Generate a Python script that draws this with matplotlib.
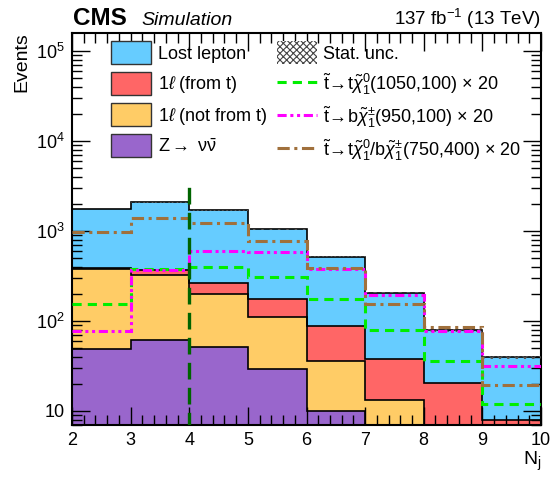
import numpy as np
import matplotlib
matplotlib.use("Agg")
import matplotlib.pyplot as plt
from matplotlib.patches import Patch
from matplotlib.lines import Line2D
from matplotlib.ticker import FixedLocator, MultipleLocator, LogLocator, NullFormatter

plt.rcParams['font.family'] = ['Liberation Sans', 'DejaVu Sans']
plt.rcParams['mathtext.fontset'] = 'custom'
plt.rcParams['mathtext.rm'] = 'Liberation Sans'
plt.rcParams['mathtext.it'] = 'Liberation Sans:italic'
plt.rcParams['mathtext.bf'] = 'Liberation Sans:bold'
plt.rcParams['hatch.linewidth'] = 0.8

# ---- data ----
nj_edges = [2, 3, 4, 5, 6, 7, 8, 9, 10]
lost_lepton = [1361, 1703, 1426, 868, 427, 168, 58, 31.6]
one_l_from_t = [16, 39, 63, 65, 53, 25, 16.4, 5.4]
one_l_not_from_t = [324, 266, 150, 83, 26, 10.2, 3, 2]
z_nunu = [49, 62, 51, 29, 10, 3, 1, 0.5]
stat_unc = [12, 14, 13, 10, 6, 4, 2.5, 1.7]
sig_t_1050_100 = [153, 373, 399, 308, 177, 80, 35.6, 12.1]
sig_b_950_100 = [78, 367, 602, 578, 373, 193, 78, 31.8]
sig_mix_750_400 = [967, 1409, 1239, 773, 383, 156, 85, 19.5]
cut_nj = 4
cut_top = 3500

labels_bkg = ["Lost lepton", r"1$\ell$ (from t)", r"1$\ell$ (not from t)",
              r"Z$\rightarrow$ $\mathrm{\nu}\bar{\mathrm{\nu}}$"]
colors_bkg = ["#66ccff", "#ff6666", "#ffcc66", "#9966cc"]
sig_labels = [r"$\tilde{\mathrm{t}}\!\rightarrow\!\mathrm{t}\tilde{\chi}_1^0$(1050,100) $\times$ 20",
              r"$\tilde{\mathrm{t}}\!\rightarrow\!\mathrm{b}\tilde{\chi}_1^{\pm}$(950,100) $\times$ 20",
              r"$\tilde{\mathrm{t}}\!\rightarrow\!\mathrm{t}\tilde{\chi}_1^0$/b$\tilde{\chi}_1^{\pm}$(750,400) $\times$ 20"]
sig_colors = ["#00ee00", "#ff00ff", "#a0703c"]
sig_styles = [(0, (3, 2)), (0, (3, 1.2, 1, 1.2, 1, 1.2)), (0, (4, 1.5, 1, 1.5))]

edges = np.array(nj_edges, dtype=float)
zn = np.array(z_nunu)
nft = np.array(one_l_not_from_t)
ft = np.array(one_l_from_t)
ll = np.array(lost_lepton)
lay0 = zn
lay1 = lay0 + nft
lay2 = lay1 + ft
lay3 = lay2 + ll
unc = np.array(stat_unc)

fig = plt.figure(figsize=(5.5, 4.78), dpi=100)
ax = fig.add_axes([0.131, 0.111, 0.8526, 0.821])

base = 1e-3
layers = [(lay3, lay2, colors_bkg[0]), (lay2, lay1, colors_bkg[1]),
          (lay1, lay0, colors_bkg[2]), (lay0, base, colors_bkg[3])]
for top, bot, c in layers:
    ax.stairs(top, edges, baseline=bot, fill=True, facecolor=c, edgecolor='none', lw=0, zorder=1)
for top in [lay3, lay2, lay1, lay0]:
    ax.stairs(top, edges, baseline=None, fill=False, edgecolor='black', lw=1.2, zorder=2)

ax.stairs(lay3 + unc, edges, baseline=lay3 - unc, fill=True, facecolor='none',
          edgecolor='#555555', hatch='xxxx', lw=0, zorder=3)

for vals, c, ls in zip([sig_t_1050_100, sig_b_950_100, sig_mix_750_400], sig_colors, sig_styles):
    ax.stairs(vals, edges, baseline=None, fill=False, edgecolor=c, lw=2.2, linestyle=ls, zorder=4)

ax.plot([cut_nj, cut_nj], [1, cut_top], color='#006400', lw=2.4, linestyle=(0, (5, 2.5)), zorder=5)

ax.set_yscale('log')
ax.set_xlim(2, 10)
ax.set_ylim(7, 1.6e5)
ax.xaxis.set_major_locator(MultipleLocator(1))
ax.xaxis.set_minor_locator(MultipleLocator(0.2))
ax.yaxis.set_major_locator(FixedLocator([10, 100, 1000, 1e4, 1e5]))
ax.set_yticklabels(["10", r"$10^2$", r"$10^3$", r"$10^4$", r"$10^5$"])
ax.yaxis.set_minor_locator(LogLocator(base=10, subs=np.arange(2, 10)))
ax.yaxis.set_minor_formatter(NullFormatter())
ax.tick_params(which='both', direction='in', top=True, right=True, labelsize=13, width=1)
ax.tick_params(which='major', length=13, pad=5)
ax.tick_params(which='minor', length=7)
for s in ax.spines.values():
    s.set_linewidth(1.5)

ax.set_ylabel("Events", fontsize=14, loc='top', labelpad=4)
ax.set_xlabel(r"N$_\mathrm{j}$", fontsize=14, loc='right', labelpad=1)

fig.text(0.133, 0.948, "CMS", fontsize=17.5, fontweight='bold', ha='left', va='baseline')
fig.text(0.258, 0.948, "Simulation", fontsize=14, style='italic', ha='left', va='baseline')
fig.text(0.983, 0.948, r"137 fb$^{-1}$ (13 TeV)", fontsize=13.5, ha='right', va='baseline')

h1 = [Patch(facecolor=c, edgecolor='#333333', lw=1) for c in colors_bkg]
leg1 = ax.legend(h1, labels_bkg, loc='upper left', bbox_to_anchor=(0.083, 0.978),
                 frameon=False, fontsize=13, handlelength=2.2, handleheight=1.6,
                 labelspacing=0.42, handletextpad=0.4, borderpad=0, borderaxespad=0)
ax.add_artist(leg1)
h2 = [Patch(facecolor='white', edgecolor='#444444', hatch='xxxxx', lw=0)] + \
     [Line2D([0], [0], color=c, lw=2.2, linestyle=ls) for c, ls in zip(sig_colors, sig_styles)]
leg2 = ax.legend(h2, ["Stat. unc."] + sig_labels, loc='upper left', bbox_to_anchor=(0.438, 0.978),
                 frameon=False, fontsize=13, handlelength=2.2, handleheight=1.6,
                 labelspacing=0.42, handletextpad=0.3, borderpad=0, borderaxespad=0)

fig.savefig("out.png", dpi=100)
